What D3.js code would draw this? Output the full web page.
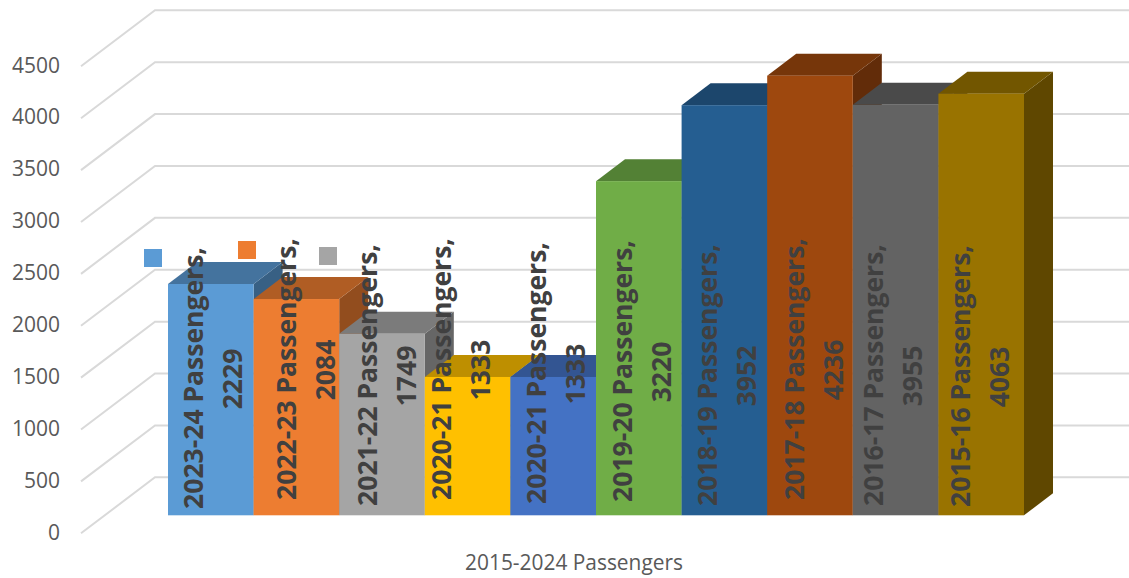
<!DOCTYPE html>
<html>
<head>
  <meta charset="utf-8">
  <script src="https://d3js.org/d3.v7.min.js"></script>
  <style>
    html, body { margin: 0; padding: 0; background: #fff; }
    svg { display: block; }
    text { font-family: "Open Sans", sans-serif; }
  </style>
</head>
<body>
  <script type="text/javascript">
    var years = ["2023-24", "2022-23", "2021-22", "2020-21", "2020-21", "2019-20", "2018-19", "2017-18", "2016-17", "2015-16"];
    var passengers = [2229, 2084, 1749, 1333, 1333, 3220, 3952, 4236, 3955, 4063];
    var colors = ["#5B9BD5", "#ED7D31", "#A5A5A5", "#FFC000", "#4472C4", "#70AD47", "#255E91", "#9E480E", "#636363", "#997300"];
    var ticks = [0, 500, 1000, 1500, 2000, 2500, 3000, 3500, 4000, 4500];
    var seriesName = "Passengers";
    var axisTitle = "2015-2024 Passengers";

    var width = 1129, height = 578;

    var svg = d3.select("body").append("svg")
      .attr("width", width)
      .attr("height", height);

    var x = d3.scaleBand()
      .domain(d3.range(years.length))
      .range([168, 1024])
      .padding(0);

    var y = d3.scaleLinear()
      .domain([0, 4500])
      .range([515.3, 48.3]);

    // the bars stand halfway into the floor, so the wall and the axis are offset from them
    var depthX = 29, depthY = 22;
    var wallX = 155, wallDy = -38;
    var frontX = 81, frontDy = 18;

    // gridlines
    var grid = svg.append("g");
    ticks.forEach(function(t) {
      var yy = y(t);
      grid.append("path")
        .attr("d", "M" + frontX + "," + (yy + frontDy) + "L" + wallX + "," + (yy + wallDy) + "L" + width + "," + (yy + wallDy))
        .attr("fill", "none")
        .attr("stroke", "#D9D9D9")
        .attr("stroke-width", 2);
    });

    // y axis labels
    var axis = d3.axisLeft(y).tickValues(ticks).tickSize(0).tickPadding(0).tickFormat(d3.format("d"));
    var axisG = svg.append("g")
      .attr("transform", "translate(60," + (frontDy - 1) + ")")
      .call(axis);
    axisG.select(".domain").remove();
    axisG.selectAll("text")
      .attr("font-size", 21)
      .attr("font-family", "'Open Sans', sans-serif")
      .attr("fill", "#595959");

    // bars, painted left to right so each one covers its neighbour's side
    years.forEach(function(yr, i) {
      var x0 = x(i), x1 = x0 + x.bandwidth();
      var top = y(passengers[i]), base = y(0);
      var g = svg.append("g");
      g.append("path") // side
        .attr("d", "M" + x1 + "," + top + "L" + (x1 + depthX) + "," + (top - depthY) + "L" + (x1 + depthX) + "," + (base - depthY) + "L" + x1 + "," + base + "Z")
        .attr("fill", d3.rgb(colors[i]).darker(1.35));
      g.append("path") // top
        .attr("d", "M" + x0 + "," + top + "L" + (x0 + depthX) + "," + (top - depthY) + "L" + (x1 + depthX) + "," + (top - depthY) + "L" + x1 + "," + top + "Z")
        .attr("fill", d3.rgb(colors[i]).darker(0.83));
      g.append("rect") // front
        .attr("x", x0)
        .attr("y", top)
        .attr("width", x.bandwidth())
        .attr("height", base - top)
        .attr("fill", colors[i]);
    });

    // the labels were dragged by hand in the original, so each has its own nudge
    var labelDx = [25, 33, 28, 17, 26, 26, 26, 27, 21, 22];
    var labelDy = [10, 1, 7, 1, 5, 3, 7, 1, 7, 8];
    var labels = svg.append("g");
    years.forEach(function(yr, i) {
      var cx = x(i) + labelDx[i], cy = 368 + labelDy[i];
      var g = labels.append("g")
        .attr("transform", "translate(" + cx + "," + cy + ") rotate(-90)")
        .attr("font-size", 26.5)
        .attr("font-weight", 700)
        .attr("fill", "#404040")
        .attr("text-anchor", "middle");
      g.append("text").attr("y", 9.5).text(yr + " " + seriesName + ",");
      g.append("text").attr("x", -1).attr("y", 48.5).text(passengers[i]);
    });

    // legend keys, the names are missing in the original
    var legendColors = colors.slice(0, 3);
    var legendX = [144, 238, 319], legendY = [249, 241, 247];
    svg.selectAll(".key")
      .data(legendColors)
      .enter()
      .append("rect")
      .attr("class", "key")
      .attr("x", function(d, i) { return legendX[i]; })
      .attr("y", function(d, i) { return legendY[i]; })
      .attr("width", 18)
      .attr("height", 18)
      .attr("fill", function(d) { return d; });

    svg.append("text")
      .attr("x", 574)
      .attr("y", 570)
      .attr("text-anchor", "middle")
      .attr("font-size", 20.9)
      .attr("fill", "#595959")
      .text(axisTitle);
  </script>
</body>
</html>
